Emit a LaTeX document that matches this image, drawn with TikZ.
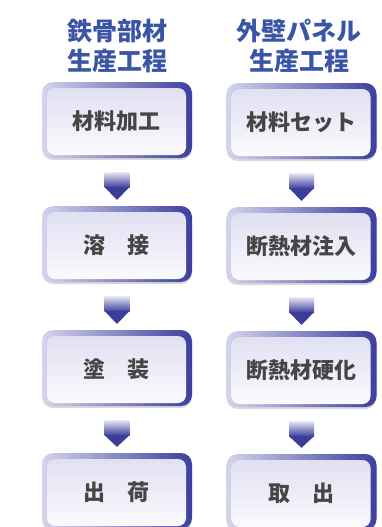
\documentclass[tikz,border=0pt]{standalone}
\usepackage{fontspec}
\setmainfont{Noto Sans CJK JP}
\usetikzlibrary{calc,shadows}
\definecolor{titleblue}{HTML}{3B55A6}
\definecolor{frameL}{HTML}{D4D4EC}
\definecolor{frameD}{HTML}{3C3F9E}
\definecolor{innerT}{HTML}{E0E0F2}
\definecolor{innerB}{HTML}{FAFAFE}
\definecolor{txt}{HTML}{454545}
\definecolor{arrL}{HTML}{E6E6F5}
\definecolor{arrD}{HTML}{3B3D9A}
\begin{document}
\begin{tikzpicture}[x=1pt,y=-1pt,
  frame/.style={minimum width=150pt, minimum height=76pt, rounded corners=11pt,
    left color=frameL, right color=frameD, inner sep=0pt,
    drop shadow={shadow xshift=0pt, shadow yshift=-2pt, opacity=0.25, fill=black!60}},
  stepbox/.style={minimum width=139pt, minimum height=67pt, rounded corners=8pt,
    top color=innerT, bottom color=innerB, inner sep=0pt,
    font=\bfseries\fontsize{22}{26}\selectfont, text=txt},
  title/.style={align=center, font=\bfseries\fontsize{25}{30}\selectfont, text=titleblue},
  shaft/.style={top color=arrL, bottom color=arrD},
  tip/.style={fill=arrD}]
\useasboundingbox (0,0) rectangle (382,527);
\node[title] (tl) at (117,46) {鉄骨部材\\生産工程};
\node[title] (tr) at (299,46) {外壁パネル\\生産工程};
\foreach \n/\y/\t in {1/120/材料加工, 2/244/溶　接, 3/368/塗　装, 4/491/出　荷} {
  \node[frame] (lf\n) at (117,\y) {};
  \node[stepbox] (lt\n) at ($(lf\n.center)+(-0.5,1.5)$) {\t};
}
\foreach \n/\y/\t in {1/121/材料セット, 2/245/断熱材注入, 3/369/断熱材硬化, 4/492/取　出} {
  \node[frame] (rf\n) at (301.5,\y) {};
  \node[stepbox] (rt\n) at ($(rf\n.center)+(-0.5,1.5)$) {\t};
}
\foreach \s in {l,r} {
  \foreach \n in {1,2,3} {
    \pgfmathtruncatemacro\m{\n+1}
    \shade[shaft] ($(\s f\n.south)+(-12.5,14)$) rectangle ($(\s f\n.south)+(12.5,29.5)$);
    \fill[tip] ($(\s f\n.south)+(-12.5,29)$) -- ($(\s f\n.south)+(12.5,29)$) -- ($(\s f\m.north)+(0,-6)$) -- cycle;
  }
}
\end{tikzpicture}
\end{document}
